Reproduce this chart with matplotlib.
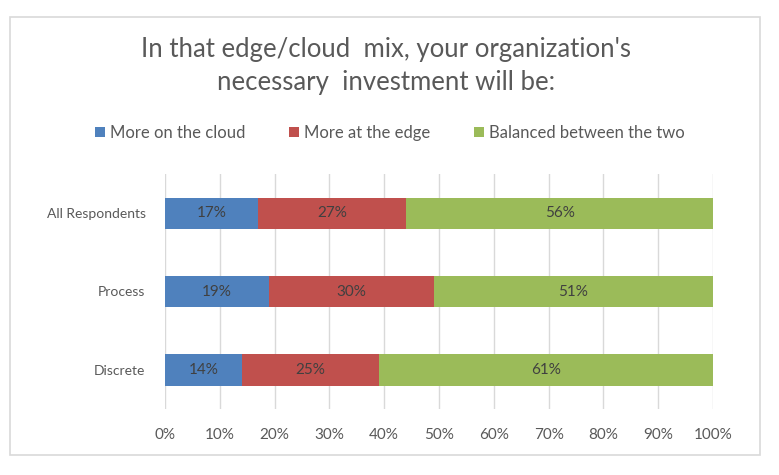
import matplotlib.pyplot as plt
import numpy as np
from matplotlib.patches import Rectangle

plt.rcParams['font.family'] = ['Lato', 'DejaVu Sans']

categories = ["All Respondents", "Process", "Discrete"]
series_names = ["More on the cloud", "More at the edge", "Balanced between the two"]
cloud = [17, 19, 14]
edge = [27, 30, 25]
balanced = [56, 51, 61]
colors = ["#4F81BD", "#C0504D", "#9BBB59"]

W, H = 779, 475
fig = plt.figure(figsize=(W / 100, H / 100), dpi=100)
fig.patch.set_facecolor("white")

# chart border
fig.patches.append(Rectangle((10 / W, 1 - 455 / H), 750 / W, 438 / H,
                             transform=fig.transFigure, fill=False,
                             edgecolor="#D9D9D9", linewidth=1.2))

ax = fig.add_axes([165 / W, 1 - 409 / H, 548 / W, 235 / H])
y = np.arange(len(categories))[::-1]
left = np.zeros(len(categories))
for name, vals, c in zip(series_names, [cloud, edge, balanced], colors):
    vals = np.array(vals)
    ax.barh(y, vals, left=left, height=0.4, color=c, label=name, zorder=3)
    for yi, l, v in zip(y, left, vals):
        ax.text(l + v / 2, yi, f"{v}%", ha="center", va="center",
                fontsize=11, color="#404040", zorder=4)
    left += vals

ax.set_xlim(0, 100)
ax.set_ylim(-0.5, 2.5)
ax.set_xticks(np.arange(0, 101, 10))
ax.set_xticklabels([f"{t}%" for t in range(0, 101, 10)], fontsize=11, color="#595959")
ax.set_yticks(y)
ax.set_yticklabels(categories, fontsize=10, color="#595959")
ax.tick_params(length=0, pad=14)
ax.tick_params(axis="x", pad=14)
ax.grid(axis="x", color="#D9D9D9", linewidth=1, zorder=0)
for s in ax.spines.values():
    s.set_visible(False)

fig.text(386 / W, 1 - 66 / H, "In that edge/cloud  mix, your organization's\nnecessary  investment will be:",
         ha="center", va="center", fontsize=18.5, color="#595959", linespacing=1.4)

fig.legend(loc="center", bbox_to_anchor=(390 / W, 1 - 133 / H), ncol=3, frameon=False,
           fontsize=12, labelcolor="#595959", handlelength=0.6, handleheight=0.6,
           handletextpad=0.3, columnspacing=2.6)

plt.savefig("out.png", dpi=100)
